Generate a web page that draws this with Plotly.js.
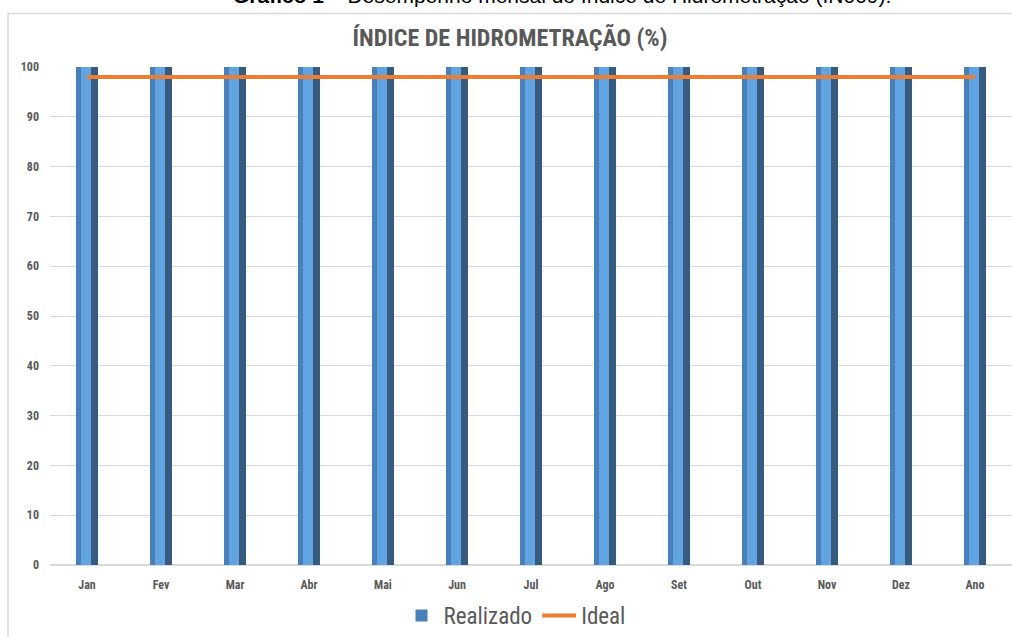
<!DOCTYPE html>
<html>
<head>
<meta charset="utf-8">
<script src="https://cdn.plot.ly/plotly-3.0.1.min.js"></script>
<style>
html,body{margin:0;padding:0;background:#fff;}
#chart{width:1012px;height:637px;}
</style>
</head>
<body>
<div id="chart"></div>
<script>
const months = ["Jan","Fev","Mar","Abr","Mai","Jun","Jul","Ago","Set","Out","Nov","Dez","Ano"];
const realizado = [100,100,100,100,100,100,100,100,100,100,100,100,100];
const ideal = [98,98,98,98,98,98,98,98,98,98,98,98,98];
const yTicks = [0,10,20,30,40,50,60,70,80,90,100];

const narrow = "'Liberation Sans Narrow', 'Arial Narrow', 'Roboto Condensed', Arial, sans-serif";
const gray = "#595959";

const traces = [
  {type:"bar", x:months, y:realizado, name:"Realizado", width:0.297, offset:-0.149,
   marker:{color:"#4a80b9", line:{width:0}}, showlegend:true, hoverinfo:"skip"},
  {type:"bar", x:months, y:realizado, name:"Realizado", width:0.135, offset:-0.081,
   marker:{color:"#62a3e2", line:{width:0}}, showlegend:false, hoverinfo:"skip"},
  {type:"bar", x:months, y:realizado, name:"Realizado", width:0.095, offset:0.054,
   marker:{color:"#365b7e", line:{width:0}}, showlegend:false, hoverinfo:"skip"},
  {type:"scatter", mode:"lines", x:months, y:ideal, name:"Ideal",
   line:{color:"#ed7d31", width:4}}
];

const plotH = 637 - 67 - 68;
const plotW = 1012 - 50 - 0;

const layout = {
  width:1012, height:637,
  margin:{l:50, r:0, t:67, b:68},
  paper_bgcolor:"#ffffff", plot_bgcolor:"#ffffff",
  barmode:"overlay",
  title:{text:"ÍNDICE DE HIDROMETRAÇÃO (%)", font:{family:narrow, size:24, color:gray, weight:"bold"},
         x:(510-50)/plotW, xanchor:"center", xref:"paper", y:1-38/637, yref:"container", yanchor:"middle"},
  xaxis:{type:"category", categoryorder:"array", categoryarray:months,
         showgrid:false, showline:false, zeroline:false, ticks:"",
         tickfont:{family:narrow, size:12, color:gray, weight:"bold"}, ticklabelstandoff:11},
  yaxis:{range:[0,100], tickvals:yTicks, ticktext:yTicks.map(String),
         showgrid:true, gridcolor:"#d9d9d9", gridwidth:1, zeroline:true, zerolinecolor:"#d9d9d9", zerolinewidth:1.5,
         showline:false, ticks:"", tickfont:{family:narrow, size:12, color:gray, weight:"bold"}, ticklabelstandoff:10},
  legend:{orientation:"h", x:(515-50)/plotW, xanchor:"center", y:(569-620)/plotH, yanchor:"middle",
          font:{family:narrow, size:23, color:gray}, itemwidth:34, traceorder:"normal"},
  showlegend:true,
  shapes:[
    {type:"path", xref:"paper", yref:"paper",
     path:"M " + ((8-50)/plotW) + " " + (-0.3) + " L " + ((8-50)/plotW) + " " + ((569-13)/plotH) + " L 1.05 " + ((569-13)/plotH),
     line:{color:"#d9d9d9", width:1.5}, layer:"above"}
  ],
  annotations:[
    {text:"<b>Gráfico 1 –</b> Desempenho mensal do Índice de Hidrometração (IN009).",
     xref:"paper", yref:"paper", x:(562-50)/plotW, xanchor:"center",
     y:(569-9)/plotH, yanchor:"bottom", showarrow:false,
     font:{family:"'Liberation Sans', Arial, sans-serif", size:21, color:"#000000"}}
  ]
};

Plotly.newPlot("chart", traces, layout, {displayModeBar:false, staticPlot:true});
</script>
</body>
</html>
